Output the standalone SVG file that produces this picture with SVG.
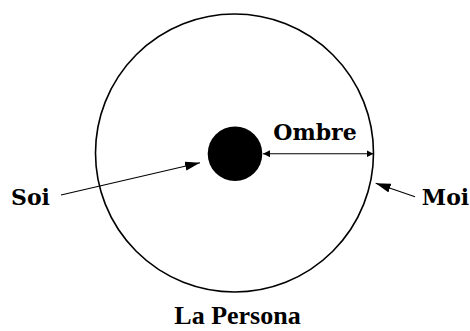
<svg xmlns="http://www.w3.org/2000/svg" width="470" height="331" viewBox="0 0 470 331">
<defs>
<style>
.lbl{font-family:"DejaVu Serif","Liberation Serif",serif;font-weight:bold;font-size:22px;fill:#000}
.ttl{font-family:"Liberation Serif","Times New Roman",serif;font-weight:bold;font-size:26px;fill:#000}
.ln{stroke:#000;stroke-width:1.1;fill:none}
</style>
<marker id="big" markerUnits="userSpaceOnUse" markerWidth="16" markerHeight="10" refX="15" refY="4.5" orient="auto">
<path d="M0,0 L15,4.5 L0,9 Z" fill="#000"/>
</marker>
<marker id="sm" markerUnits="userSpaceOnUse" markerWidth="8" markerHeight="8" refX="7" refY="3.5" orient="auto-start-reverse">
<path d="M0,0 L7,3.5 L0,7 Z" fill="#000"/>
</marker>
</defs>
<g id="persona">
<circle cx="234.5" cy="153" r="139" fill="none" stroke="#000" stroke-width="1.6"/>
</g>
<g id="soi-core">
<circle cx="235" cy="153.7" r="27.3" fill="#000"/>
</g>
<g id="connectors">
<line class="ln" x1="263" y1="153.7" x2="373.5" y2="153.7" marker-start="url(#sm)" marker-end="url(#sm)"/>
<line class="ln" x1="61" y1="195" x2="200" y2="162.7" marker-end="url(#big)"/>
<line class="ln" x1="415" y1="196.7" x2="375.7" y2="183.3" marker-end="url(#big)"/>
</g>
<g id="labels">
<text class="lbl" x="315" y="140" text-anchor="middle">Ombre</text>
<text class="lbl" x="30.5" y="205" text-anchor="middle">Soi</text>
<text class="lbl" x="445.5" y="205" text-anchor="middle">Moi</text>
<text class="ttl" x="237.5" y="324" text-anchor="middle">La Persona</text>
</g>
</svg>
